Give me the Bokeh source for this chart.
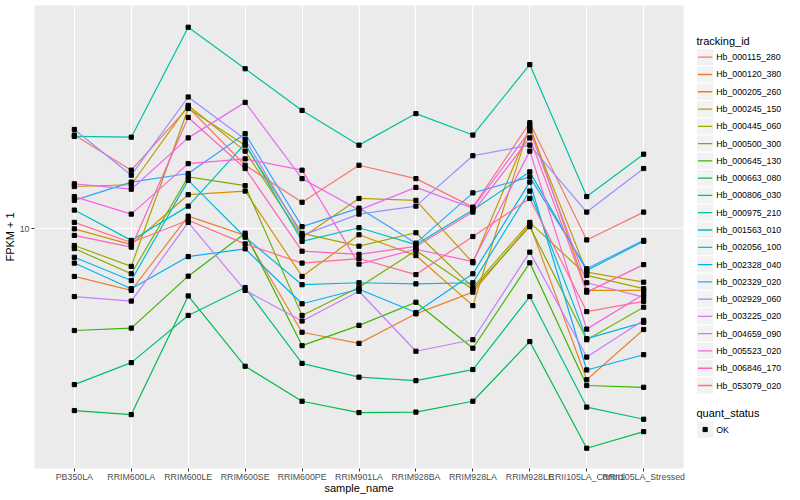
import numpy as np
from bokeh.plotting import figure
from bokeh.models import FactorRange, Range1d, FixedTicker, BasicTickFormatter
from bokeh.layouts import row
from bokeh.embed import file_html
from bokeh.resources import INLINE
from bokeh.core.properties import value

samples = ["PB350LA", "RRIM600LA", "RRIM600LE", "RRIM600SE", "RRIM600PE", "RRIM901LA",
           "RRIM928BA", "RRIM928LA", "RRIM928LE", "RRII105LA_Control", "RRII105LA_Stressed"]

tracking_ids = ["Hb_000115_280", "Hb_000120_380", "Hb_000205_260", "Hb_000245_150", "Hb_000445_060",
                "Hb_000500_300", "Hb_000645_130", "Hb_000663_080", "Hb_000806_030", "Hb_000975_210",
                "Hb_001563_010", "Hb_002056_100", "Hb_002328_040", "Hb_002329_020", "Hb_002929_060",
                "Hb_003225_020", "Hb_004659_090", "Hb_005523_020", "Hb_006846_170", "Hb_053079_020"]

colors = ["#F8766D", "#EA8331", "#D89000", "#C09B00", "#A3A500", "#7CAE00", "#39B600", "#00BB4E",
          "#00BF7D", "#00C1A3", "#00BFC4", "#00BAE0", "#00B0F6", "#35A2FF", "#9590FF", "#C77CFF",
          "#E76BF3", "#FA62DB", "#FF62BC", "#FF6C91"]

# FPKM + 1 per sample
Hb_000115_280 = [15.4, 13.1, 17.5, 13.4, 11.3, 13.4, 12.6, 11.05, 16.3, 9.5, 10.8]
Hb_000120_380 = [8.03, 7.53, 10.6, 9.7, 6.21, 5.90, 6.76, 7.47, 10.2, 4.99, 6.29]
Hb_000205_260 = [10.0, 9.30, 11.7, 11.9, 8.03, 9.73, 8.84, 7.02, 16.1, 7.53, 7.53]
Hb_000245_150 = [12.15, 12.25, 17.65, 14.3, 9.61, 11.5, 11.4, 8.55, 15.9, 8.19, 7.82]
Hb_000445_060 = [9.26, 8.41, 17.4, 14.7, 9.79, 9.23, 9.82, 7.63, 10.3, 8.07, 7.59]
Hb_000500_300 = [9.13, 8.13, 12.7, 12.2, 6.71, 7.64, 9.05, 7.56, 10.1, 6.00, 6.97]
Hb_000645_130 = [6.26, 6.33, 8.04, 9.8, 5.84, 6.41, 7.13, 5.77, 8.55, 4.86, 4.82]
Hb_000663_080 = [4.33, 4.25, 7.34, 5.31, 4.52, 4.29, 4.30, 4.52, 5.95, 3.64, 3.93]
Hb_000806_030 = [4.88, 5.40, 6.71, 7.63, 5.38, 5.05, 4.97, 5.23, 7.32, 4.40, 4.16]
Hb_000975_210 = [15.3, 15.25, 25.3, 20.9, 17.25, 14.7, 17.0, 15.4, 21.3, 11.6, 14.1]
Hb_001563_010 = [10.9, 9.48, 11.1, 14.8, 9.44, 10.05, 9.30, 10.9, 13.0, 8.25, 9.44]
Hb_002056_100 = [8.77, 7.88, 12.5, 9.62, 7.73, 7.80, 7.76, 7.80, 11.9, 6.03, 6.50]
Hb_002328_040 = [8.54, 7.59, 8.80, 9.12, 7.08, 7.57, 6.80, 8.13, 12.4, 5.22, 5.60]
Hb_002329_020 = [11.4, 12.4, 12.9, 15.5, 10.1, 11.0, 9.36, 11.8, 12.7, 8.32, 9.48]
Hb_002929_060 = [15.8, 12.8, 18.35, 15.1, 9.7, 10.7, 11.1, 14.0, 14.7, 10.8, 13.2]
Hb_003225_020 = [7.32, 7.17, 10.3, 7.53, 6.54, 7.50, 5.69, 6.00, 8.98, 5.54, 6.56]
Hb_004659_090 = [12.3, 12.0, 15.2, 17.9, 12.6, 10.9, 12.1, 11.0, 15.7, 7.8, 7.3]
Hb_005523_020 = [11.6, 10.7, 13.5, 13.8, 13.1, 8.5, 9.1, 8.6, 14.3, 6.3, 7.4]
Hb_006846_170 = [9.70, 9.19, 16.7, 13.2, 9.02, 8.89, 9.22, 10.8, 15.2, 7.47, 8.48]
Hb_053079_020 = [10.3, 9.39, 10.4, 9.33, 8.54, 8.72, 8.10, 9.65, 11.5, 6.83, 7.16]

series = [Hb_000115_280, Hb_000120_380, Hb_000205_260, Hb_000245_150, Hb_000445_060,
          Hb_000500_300, Hb_000645_130, Hb_000663_080, Hb_000806_030, Hb_000975_210,
          Hb_001563_010, Hb_002056_100, Hb_002328_040, Hb_002329_020, Hb_002929_060,
          Hb_003225_020, Hb_004659_090, Hb_005523_020, Hb_006846_170, Hb_053079_020]

y_ticks = [10]
quant_status = ["OK"]

FONT = "Liberation Sans"

# visible y window (log10 limits of the panel)
y_range = Range1d(10 ** 0.5206, 10 ** 1.4466)
x_range = FactorRange(factors=samples, range_padding=0.2, range_padding_units="absolute")

FRAME_H = 463
p = figure(title=None, x_range=x_range, y_range=y_range, y_axis_type="log",
           frame_width=649, frame_height=FRAME_H,
           min_border_left=27, min_border_right=8, min_border_top=5, min_border_bottom=0,
           toolbar_location=None, output_backend="svg")
p.background_fill_color = "#EBEBEB"
p.border_fill_color = "white"
p.outline_line_color = None

for vals, c in zip(series, colors):
    p.line(x=samples, y=vals, line_color=c, line_width=1.2)
for vals in series:
    p.scatter(x=samples, y=vals, marker="square", size=4.2, fill_color="black", line_color="black")

p.yaxis.ticker = FixedTicker(ticks=y_ticks, minor_ticks=[])
p.yaxis.formatter = BasicTickFormatter()
for ax in (p.xaxis[0], p.yaxis[0]):
    ax.axis_line_color = None
    ax.major_tick_line_color = "#333333"
    ax.major_tick_out = 3
    ax.major_tick_in = 0
    ax.minor_tick_line_color = None
    ax.major_label_text_font = FONT
    ax.major_label_text_font_size = "8.8px"
    ax.major_label_text_color = "#4D4D4D"
    ax.major_label_standoff = 2
    ax.axis_label_text_font = FONT
    ax.axis_label_text_font_size = "11px"
    ax.axis_label_text_font_style = "normal"
    ax.axis_label_text_color = "black"
    ax.axis_label_standoff = 1
p.xaxis.major_label_standoff = 0
p.xaxis.axis_label_standoff = -3
p.xaxis.axis_label = "sample_name"
p.yaxis.axis_label = "FPKM + 1"

p.xgrid.grid_line_color = "white"
p.xgrid.grid_line_width = 1.1
p.ygrid.grid_line_color = "white"
p.ygrid.grid_line_width = 1.1
p.ygrid.minor_grid_line_color = None

# legend panel: frame aligned with the main panel (y in page pixels 5..468)
leg = figure(title=None, frame_width=100, frame_height=FRAME_H,
             x_range=Range1d(0, 100), y_range=Range1d(5 + FRAME_H, 5),
             x_axis_type=None, y_axis_type=None, toolbar_location=None,
             output_backend="svg", min_border=0)
leg.outline_line_color = None
leg.background_fill_color = "white"
leg.border_fill_color = "white"

key = 17.28
key_y = 56.7 + key * np.arange(len(tracking_ids))
leg.text(x=[5], y=[40.5], text=["tracking_id"], text_font=value(FONT), text_font_size="11px",
         text_baseline="middle", text_color="black")
leg.rect(x=13.64, y=key_y, width=key, height=key, fill_color="#F2F2F2", line_color="white", line_width=1)
leg.segment(x0=6.5, x1=20.8, y0=key_y, y1=key_y, line_color=colors, line_width=1.3)
leg.text(x=24.7, y=key_y, text=tracking_ids, text_font=value(FONT), text_font_size="8.8px",
         text_baseline="middle", text_color="black")

leg.text(x=[5], y=[412.3], text=["quant_status"], text_font=value(FONT), text_font_size="11px",
         text_baseline="middle", text_color="black")
leg.rect(x=[13.64], y=[429], width=key, height=key, fill_color="#F2F2F2", line_color="white", line_width=1)
leg.scatter(x=[13.64], y=[429], marker="square", size=4.2, fill_color="black", line_color="black")
leg.text(x=[24.7], y=[429], text=quant_status, text_font=value(FONT), text_font_size="8.8px",
         text_baseline="middle", text_color="black")

layout = row(p, leg)
open("out.html", "w").write(file_html(layout, INLINE))
